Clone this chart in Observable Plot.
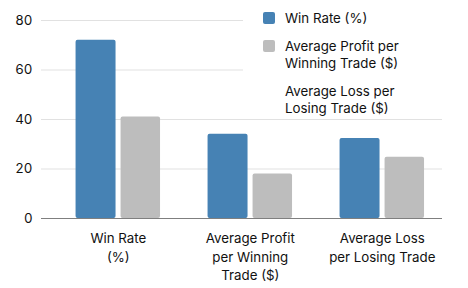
<!DOCTYPE html>
<html>
<head>
<meta charset="utf-8">
<script src="https://cdn.jsdelivr.net/npm/d3@7"></script>
<script src="https://cdn.jsdelivr.net/npm/@observablehq/plot@0.6"></script>
<style>
  html, body { margin: 0; padding: 0; background: #fff; }
  #chart { position: relative; width: 468px; height: 288px; font-family: Inter, sans-serif; }
  #chart svg { display: block; }
  .legend {
    position: absolute; left: 243px; top: 0; width: 199px; height: 116px;
    background: #fff; font-size: 13.3px; line-height: 17px; color: #111;
    box-sizing: border-box; padding-top: 9.7px;
  }
  .legend .item { display: flex; align-items: flex-start; margin-bottom: 11.2px; }
  .legend .swatch { flex: none; width: 12px; height: 12px; border-radius: 2px; margin: 2.6px 10px 0 20px; }
  .legend .name { width: 160px; white-space: pre-line; }
</style>
</head>
<body>
<div id="chart"></div>
<script>
// Categories along the x axis and their wrapped tick labels
const categories = [
  "Win Rate (%)",
  "Average Profit per Winning Trade ($)",
  "Average Loss per Losing Trade ($)"
];
const categoryLabels = [
  "Win Rate\n(%)",
  "Average Profit\nper Winning\nTrade ($)",
  "Average Loss\nper Losing Trade"
];

// Legend series
const seriesNames = [
  "Win Rate (%)",
  "Average Profit per\nWinning Trade ($)",
  "Average Loss per\nLosing Trade ($)"
];
const seriesColors = ["#4682b4", "#bdbdbd", "#ffffff"];

// Bar values per category
const blueValues = [72, 34, 32.3];
const grayValues = [41, 18, 24.7];

// Y axis ticks
const yTicks = [0, 20, 40, 60, 80];

const blueRows = categories.map((c, i) => ({category: c, value: blueValues[i]}));
const grayRows = categories.map((c, i) => ({category: c, value: grayValues[i]}));

const chart = Plot.plot({
  width: 468,
  height: 288,
  marginLeft: 41,
  marginRight: 26,
  marginTop: 20,
  marginBottom: 70,
  style: {fontFamily: "Inter, sans-serif", fontSize: "13.3px", color: "#111", background: "#fff"},
  x: {domain: categories, range: [51.8, 447.8], paddingInner: 0.36, paddingOuter: 0.18, round: false},
  y: {domain: [0, 80]},
  marks: [
    Plot.ruleY(yTicks, {stroke: "#e1e1e1", strokeWidth: 1}),
    Plot.barY(blueRows, {x: "category", y: "value", fill: seriesColors[0], insetRight: 44.5, rx: 2}),
    Plot.barY(grayRows, {x: "category", y: "value", fill: seriesColors[1], insetLeft: 45, rx: 2}),
    Plot.ruleY([0], {stroke: "#7f7f7f", strokeWidth: 1}),
    Plot.axisY({ticks: yTicks, tickSize: 0, tickPadding: 9, label: null, fontSize: 13.3}),
    Plot.axisX({tickSize: 0, tickPadding: 11, label: null, fontSize: 13.3, lineHeight: 1.41,
      tickFormat: d => categoryLabels[categories.indexOf(d)]})
  ]
});

const root = document.getElementById("chart");
root.appendChild(chart);

// Legend drawn over the upper right of the plot area
const legend = document.createElement("div");
legend.className = "legend";
seriesNames.forEach((name, i) => {
  const item = document.createElement("div");
  item.className = "item";
  const sw = document.createElement("span");
  sw.className = "swatch";
  sw.style.background = seriesColors[i];
  const label = document.createElement("span");
  label.className = "name";
  label.textContent = name;
  item.appendChild(sw);
  item.appendChild(label);
  legend.appendChild(item);
});
root.appendChild(legend);
</script>
</body>
</html>
